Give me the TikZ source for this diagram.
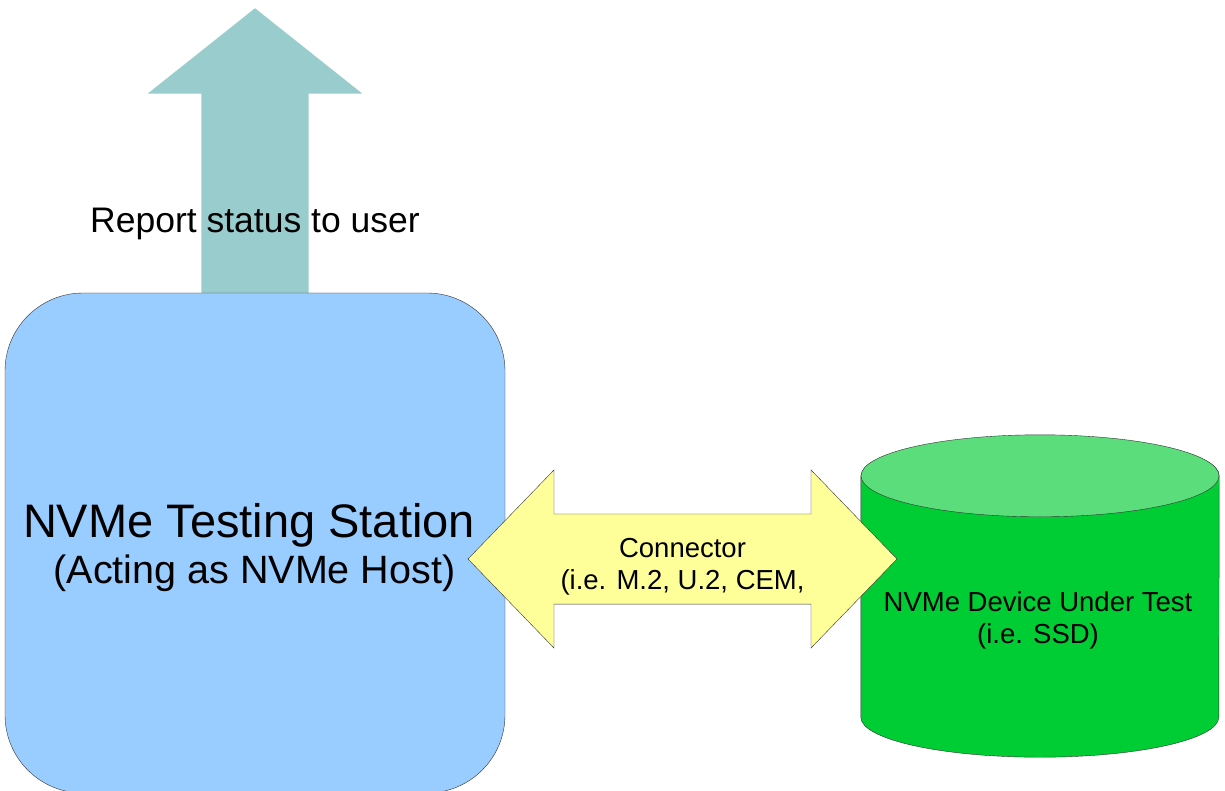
\documentclass[tikz,border=0pt]{standalone}
\usepackage{fontspec}
\setmainfont{Liberation Sans}
\usepackage{tikz}
\usetikzlibrary{shapes.arrows}
\definecolor{ReportTeal}{RGB}{153,204,204}
\definecolor{HostBlue}{RGB}{153,204,255}
\definecolor{LinkYellow}{RGB}{255,255,153}
\definecolor{DiskGreen}{RGB}{0,204,51}
\definecolor{DiskTop}{RGB}{92,221,123}
\tikzset{Host/.style={draw=black!80, thin, fill=HostBlue, rectangle, rounded corners=78pt, minimum width=500pt, minimum height=500pt}}
\tikzset{Report Arrow/.style={single arrow, fill=ReportTeal, rotate=90, single arrow tip angle=103, single arrow head extend=53.5pt, inner xsep=0pt, inner ysep=53.5pt, minimum height=285pt, anchor=tip}}
\tikzset{Link/.style={double arrow, draw=black!80, thin, fill=LinkYellow, double arrow tip angle=92, double arrow head extend=44pt, inner xsep=2pt, inner ysep=9pt, minimum height=429pt, align=center, font=\fontsize{27.5}{32}\selectfont}}
\tikzset{Disk Body/.style={rectangle, inner sep=0pt, minimum width=358pt, minimum height=241pt}}
\tikzset{Disk Side/.style={draw=black!80, thin, fill=DiskGreen}}
\tikzset{Disk End/.style={draw=black!80, thin, fill=DiskTop}}
\tikzset{Label/.style={align=center, inner sep=0pt}}

\begin{document}
\begin{tikzpicture}[x=1pt, y=-1pt]
\useasboundingbox (0,0) rectangle (1225,791);

\node[Report Arrow] (report) at (255,8) {};
\node[Label, font=\fontsize{35.5}{40}\selectfont] (reportlabel) at (255,224) {Report status to user};

\node[Host] (station) at (255,543) {};
\node[Label, font=\fontsize{47}{46}\selectfont] (stationlabel) at (249,548) {NVMe Testing Station\\{\fontsize{39.5}{46}\selectfont ~(Acting as NVMe Host)}};

% device under test: cylinder round the body node
\node[Disk Body] (dut) at (1040,596.5) {};
\draw[Disk Side] (dut.north west) -- (dut.south west)
  arc[start angle=180, end angle=360, x radius=179pt, y radius=40pt]
  -- (dut.north east) arc[start angle=0, end angle=180, x radius=179pt, y radius=40pt] -- cycle;
\draw[Disk End] (dut.north) ellipse[x radius=179pt, y radius=41pt];
\node[Label, font=\fontsize{27.5}{32}\selectfont] (dutlabel) at (1038,620) {NVMe Device Under Test\\(i.e. SSD)};

\node[Link] (link) at (682.5,559) {\rule{0pt}{34pt}Connector\\(i.e. M.2, U.2, CEM,};
\end{tikzpicture}
\end{document}
